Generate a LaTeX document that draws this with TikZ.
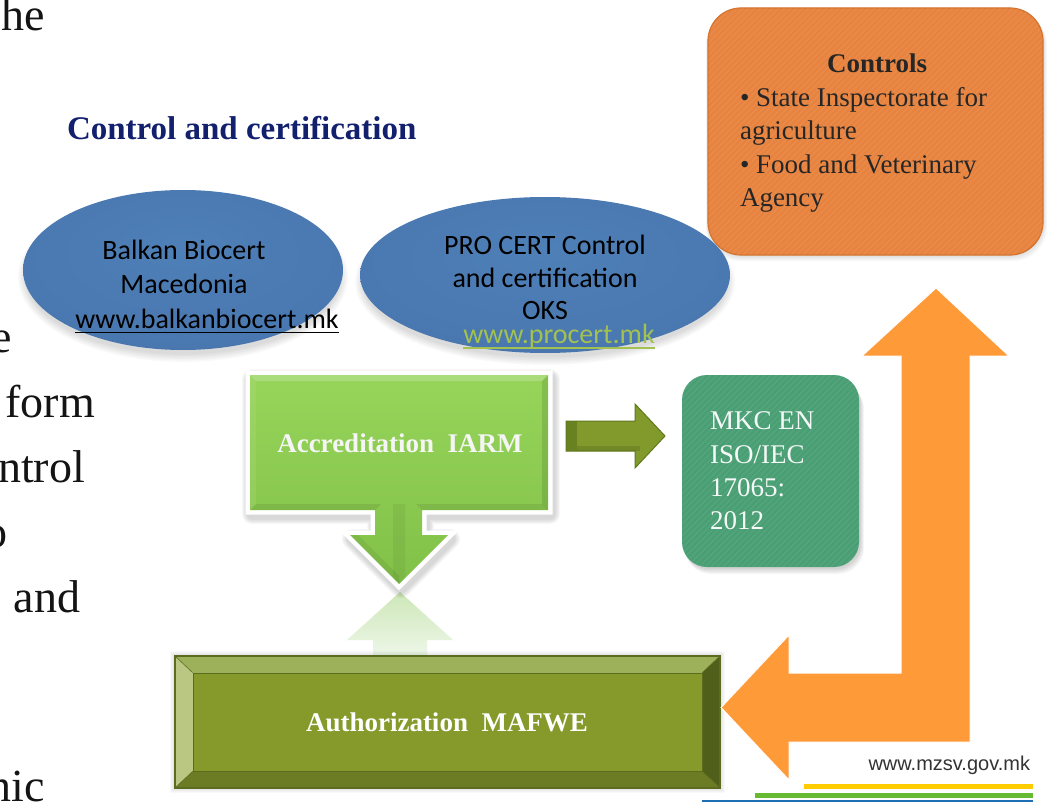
\documentclass[tikz,border=0pt]{standalone}
\usepackage{fontspec}
\setmainfont{Liberation Serif}
\newfontfamily\calfont{Carlito}
\newfontfamily\arfont{Liberation Sans}
\usetikzlibrary{shapes.geometric}
\definecolor{navyt}{RGB}{18,32,110}
\definecolor{ctrlfill}{RGB}{231,131,62}
\definecolor{ctrldraw}{RGB}{212,114,44}
\definecolor{orarrow}{RGB}{254,154,56}
\definecolor{mkcfill}{RGB}{73,158,116}
\definecolor{authfill}{RGB}{134,153,43}
\definecolor{authtop}{RGB}{157,176,90}
\definecolor{authleft}{RGB}{185,199,131}
\definecolor{authright}{RGB}{80,96,26}
\definecolor{authbot}{RGB}{108,124,37}
\definecolor{authline}{RGB}{92,108,30}
\definecolor{accTop}{RGB}{150,212,90}
\definecolor{accBot}{RGB}{130,193,72}
\definecolor{darrow}{RGB}{130,154,43}
\definecolor{darrowline}{RGB}{95,120,30}
\definecolor{procertc}{RGB}{162,193,80}
\definecolor{lnyellow}{RGB}{255,204,0}
\definecolor{lngreen}{RGB}{102,187,51}
\definecolor{lnblue}{RGB}{31,111,181}
\definecolor{urlgray}{RGB}{51,51,51}
\definecolor{ctrltext}{RGB}{38,38,38}
\definecolor{faintTop}{RGB}{205,231,184}
\definecolor{faintBot}{RGB}{238,247,233}
\pgfdeclareradialshading{blueell}{\pgfpoint{0bp}{8bp}}{rgb(0bp)=(0.31,0.50,0.72); rgb(26bp)=(0.29,0.47,0.69); rgb(40bp)=(0.26,0.43,0.64); rgb(48bp)=(0.21,0.36,0.55); rgb(52bp)=(0.19,0.33,0.51)}
\begin{document}
\begin{tikzpicture}[x=1pt,y=-1pt,
  lbl/.style={inner sep=0pt,outer sep=0pt},
  bigtxt/.style={font=\fontsize{46}{55}\selectfont,text=black!92},
  sertxt/.style={font=\fontsize{27}{33}\selectfont},
  caltxt/.style={font=\calfont\fontsize{28}{34}\selectfont,text=black},
  blueblob/.style={ellipse,inner sep=0pt,shading=blueell}]
\useasboundingbox (0,0) rectangle (1048,802);
\fill[white] (0,0) rectangle (1048,802);

% partial text of the slide on the left
\node[lbl,bigtxt,anchor=base east] (t1) at (45,31) {he};
\node[lbl,bigtxt,anchor=base east] (t2) at (12,352) {e};
\node[lbl,bigtxt,anchor=base east] (t3) at (95,417) {form};
\node[lbl,bigtxt,anchor=base east] (t4) at (85,482) {ntrol};
\node[lbl,bigtxt,anchor=base east] (t5) at (8,547) {o};
\node[lbl,bigtxt,anchor=base east] (t6) at (80,612) {and};
\node[lbl,bigtxt,anchor=base east] (t7) at (45,801) {nic};

% title
\node[lbl,anchor=base west,font=\bfseries\fontsize{33}{40}\selectfont,text=navyt] (title) at (67,140) {Control and certification};

% Controls box
\foreach \k in {1,...,4}{
  \fill[black,opacity=0.03,rounded corners=34pt] (708-\k*0.5,8+\k) rectangle (1043+\k,255+\k*1.5);
}
\node[draw=ctrldraw,line width=1.2pt,fill=ctrlfill,rounded corners=33pt,minimum width=335pt,minimum height=247pt,inner sep=0pt] (ctrl) at (875.5,131.5) {};
\begin{scope}
  \clip[rounded corners=33pt] (708,8) rectangle (1043,255);
  \foreach \i in {-260,-254,...,340}{
    \draw[white,opacity=0.06,line width=1.6pt] (708+\i,256) -- (708+\i+248,7);
  }
\end{scope}
\node[lbl,anchor=base,font=\bfseries\fontsize{27}{33}\selectfont,text=ctrltext] (ctrlh) at (877,73) {Controls};
\node[lbl,sertxt,anchor=base west,text=ctrltext] (c1) at (740,107) {• State Inspectorate for};
\node[lbl,sertxt,anchor=base west,text=ctrltext] (c2) at (740,140) {agriculture};
\node[lbl,sertxt,anchor=base west,text=ctrltext] (c3) at (740,174) {• Food and Veterinary};
\node[lbl,sertxt,anchor=base west,text=ctrltext] (c4) at (740,207) {Agency};

% ellipses with soft shadows
\foreach \k in {1,...,6}{
  \fill[black,opacity=0.022] (183,277) ellipse [x radius={(156+\k*1.5)*1pt}, y radius={(76+\k*1.5)*1pt}];
  \fill[black,opacity=0.022] (545,282) ellipse [x radius={(181+\k*1.5)*1pt}, y radius={(74+\k*1.5)*1pt}];
}
\node[blueblob,minimum width=320pt,minimum height=160pt] (bbc) at (183,270) {};
\node[blueblob,minimum width=370pt,minimum height=156pt] (pro) at (545,275) {};

\node[lbl,caltxt,anchor=base] (bbc1) at (184,259) {Balkan Biocert};
\node[lbl,caltxt,anchor=base] (bbc2) at (184,293) {Macedonia};
\node[lbl,caltxt,anchor=base] (bbc3) at (207,328) {www.balkanbiocert.mk};
\draw[line width=1.4pt] ([yshift=-4.5pt]bbc3.base west) -- ([yshift=-4.5pt]bbc3.base east);

\node[lbl,caltxt,anchor=base] (pro1) at (545,254) {PRO CERT Control};
\node[lbl,caltxt,anchor=base] (pro2) at (545,287) {and certification};
\node[lbl,caltxt,anchor=base] (pro3) at (545,319) {OKS};
\node[lbl,caltxt,anchor=base,text=procertc] (pro4) at (559,343) {www.procert.mk};
\draw[procertc,line width=1.4pt] ([yshift=-5pt]pro4.base west) -- ([yshift=-5pt]pro4.base east);

% faint up arrow (reflection)
\shade[top color=faintTop,bottom color=faintBot] (400,592) -- (453,640) -- (427,640) -- (427,657) -- (373,657) -- (373,640) -- (347,640) -- cycle;

% Authorization box (bevelled)
\foreach \k in {1,...,5}{
  \draw[black,opacity=0.025,line width={(2*\k)*1pt}] (175,656) rectangle (720,788);
}
\fill[authtop] (175,656) -- (720,656) -- (702,673) -- (193,673) -- cycle;
\fill[authleft] (175,656) -- (193,673) -- (193,771) -- (175,788) -- cycle;
\fill[authright] (720,656) -- (720,788) -- (702,771) -- (702,673) -- cycle;
\fill[authbot] (175,788) -- (720,788) -- (702,771) -- (193,771) -- cycle;
\node[fill=authfill,draw=authline,line width=0.8pt,minimum width=509pt,minimum height=98pt,inner sep=0pt] (authin) at (447.5,722) {};
\node[draw=authline,line width=1.5pt,minimum width=545pt,minimum height=132pt,inner sep=0pt] (auth) at (447.5,722) {};
\draw[authline,line width=0.6pt] (auth.north west) -- (authin.north west) (auth.north east) -- (authin.north east) (auth.south west) -- (authin.south west) (auth.south east) -- (authin.south east);
\node[lbl,anchor=base,font=\bfseries\fontsize{27}{33}\selectfont,text=white] (authtxt) at (447,731) {Authorization\ \ MAFWE};

% Accreditation callout with down arrow
\foreach \k in {1,...,5}{
  \draw[black,opacity=0.03,line width={(9+2.2*\k)*1pt},line join=round,shift={(2,4)}] (250,375) -- (548,375) -- (548,510) -- (422,510) -- (422,535) -- (448,535) -- (399,584) -- (350,535) -- (375,535) -- (375,510) -- (250,510) -- cycle;
}
\draw[white,line width=9pt,line join=miter] (250,375) -- (548,375) -- (548,510) -- (422,510) -- (422,535) -- (448,535) -- (399,584) -- (350,535) -- (375,535) -- (375,510) -- (250,510) -- cycle;
\shade[top color=accTop,bottom color=accBot] (250,375) -- (548,375) -- (548,510) -- (422,510) -- (422,535) -- (448,535) -- (399,584) -- (350,535) -- (375,535) -- (375,510) -- (250,510) -- cycle;
\fill[white,opacity=0.2] (250,375) -- (548,375) -- (542,381) -- (256,381) -- cycle;
\fill[white,opacity=0.08] (250,375) -- (256,381) -- (256,504) -- (250,510) -- cycle;
\fill[black,opacity=0.10] (548,375) -- (548,510) -- (542,504) -- (542,381) -- cycle;
\fill[black,opacity=0.08] (250,510) -- (375,510) -- (381,504) -- (256,504) -- cycle;
\fill[black,opacity=0.08] (422,510) -- (548,510) -- (542,504) -- (416,504) -- cycle;
\fill[black,opacity=0.06] (350,535) -- (399,584) -- (399,576) -- (358,535) -- cycle;
\fill[black,opacity=0.05] (393,504) -- (405,504) -- (405,576) -- (399,584) -- (393,576) -- cycle;
\node[lbl,anchor=base,font=\bfseries\fontsize{27}{33}\selectfont,text=white!96!black] (acc) at (400,452) {Accreditation\ \ IARM};

% dark olive arrow to MKC box
\fill[darrow,draw=darrowline,line width=1pt,line join=miter] (566,421) -- (635,421) -- (635,404) -- (665,436) -- (635,468) -- (635,451) -- (566,451) -- cycle;
\fill[darrowline,opacity=0.7] (566,421) -- (577,421) -- (577,451) -- (566,451) -- cycle;
\fill[black,opacity=0.12] (577,446) -- (640,446) -- (640,451) -- (577,451) -- cycle;

% MKC box
\foreach \k in {1,...,5}{
  \fill[black,opacity=0.035,rounded corners=26pt] (683+\k*0.4,378+\k) rectangle (860+\k*0.8,568+\k*1.2);
}
\node[fill=mkcfill,rounded corners=25pt,minimum width=177pt,minimum height=192pt,inner sep=0pt] (mkc) at (770.5,471) {};
\begin{scope}
  \clip[rounded corners=25pt] (682,375) rectangle (859,567);
  \foreach \i in {-200,-194,...,190}{
    \draw[white,opacity=0.06,line width=1.6pt] (682+\i,568) -- (682+\i+194,374);
  }
\end{scope}
\node[lbl,sertxt,anchor=base west,text=white!94!mkcfill] (m1) at (710,429) {MKC EN};
\node[lbl,sertxt,anchor=base west,text=white!94!mkcfill] (m2) at (710,463) {ISO/IEC};
\node[lbl,sertxt,anchor=base west,text=white!94!mkcfill] (m3) at (710,496) {17065:};
\node[lbl,sertxt,anchor=base west,text=white!94!mkcfill] (m4) at (710,529) {2012};

% orange bent arrow
\fill[orarrow,draw=white,line width=1pt,line join=miter] (936,288) -- (1009,356) -- (970,356) -- (970,742) -- (789,742) -- (789,780) -- (721,707.5) -- (789,635) -- (789,673) -- (901,673) -- (901,356) -- (862,356) -- cycle;

% site footer
\node[lbl,anchor=base east,font=\arfont\fontsize{20}{24}\selectfont,text=urlgray] (mz) at (1030,770) {www.mzsv.gov.mk};
\fill[lnyellow] (804,784) rectangle (1033,789);
\fill[lngreen] (755,793) rectangle (1033,798);
\fill[lnblue] (702,800) rectangle (1033,802);
\end{tikzpicture}
\end{document}
